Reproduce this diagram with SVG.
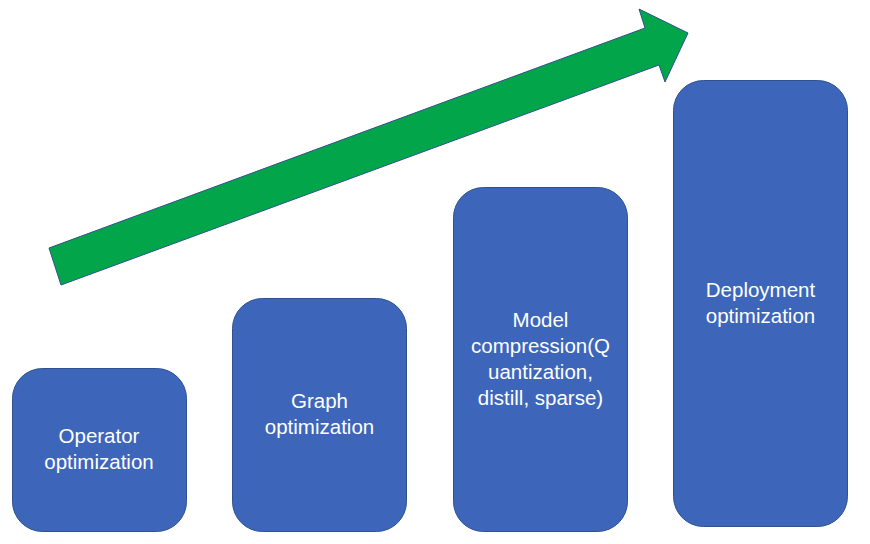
<svg xmlns="http://www.w3.org/2000/svg" width="870" height="544" viewBox="0 0 870 544">
<style>
.box{fill:#3D66BA;stroke:#2F528F;stroke-width:1}
.lbl{fill:#FFFFFF;font-family:"Liberation Sans",Arial,sans-serif;font-size:20.5px;text-anchor:middle}
.arrow{fill:#02A54A;stroke:#2F528F;stroke-width:1}
</style>
<rect width="870" height="544" fill="#FFFFFF"/>
<g id="connectors">
<path class="arrow" d="M49,248 L645,28 L639,9 L688,33 L665,82 L659,65 L61,285 Z"/>
</g>
<g id="node-operator">
<rect class="box" x="12.5" y="368.5" width="174" height="163" rx="30" ry="30"/>
<text class="lbl" x="99" y="443">Operator</text>
<text class="lbl" x="99" y="469">optimization</text>
</g>
<g id="node-graph">
<rect class="box" x="232.5" y="298.5" width="174" height="233" rx="30" ry="30"/>
<text class="lbl" x="319.5" y="408">Graph</text>
<text class="lbl" x="319.5" y="434">optimization</text>
</g>
<g id="node-model">
<rect class="box" x="453.5" y="187.5" width="174" height="344" rx="30" ry="30"/>
<text class="lbl" x="540.5" y="327">Model</text>
<text class="lbl" x="540.5" y="353">compression(Q</text>
<text class="lbl" x="540.5" y="379">uantization,</text>
<text class="lbl" x="540.5" y="405">distill, sparse)</text>
</g>
<g id="node-deployment">
<rect class="box" x="673.5" y="80.5" width="174" height="446" rx="30" ry="30"/>
<text class="lbl" x="760.5" y="297">Deployment</text>
<text class="lbl" x="760.5" y="323">optimization</text>
</g>
</svg>
